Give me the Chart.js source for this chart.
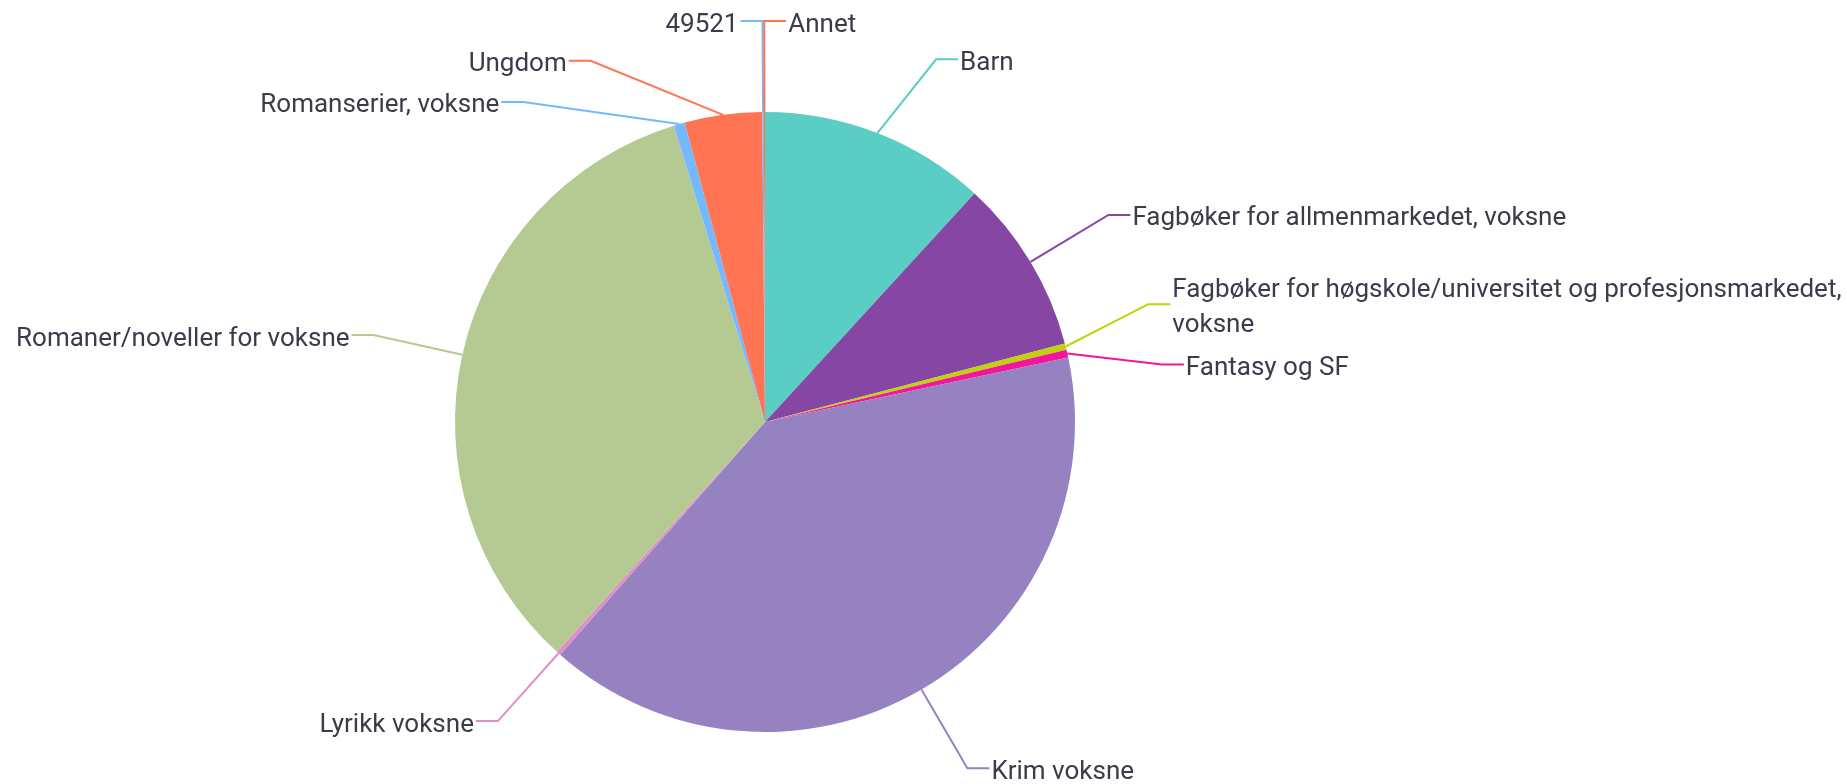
<!DOCTYPE html>
<html>
<head>
<meta charset="utf-8">
<script src="https://cdn.jsdelivr.net/npm/chart.js@4.4.1/dist/chart.umd.min.js"></script>
<style>
    html, body { margin: 0; padding: 0; background: #ffffff; }
    #wrap { width: 1847px; height: 784px; }
</style>
</head>
<body>
<div id="wrap"><canvas id="pieChart" width="1847" height="784"></canvas></div>
<script>
// Categories in drawing order (clockwise from 12 o'clock)
const categories = [
    'Barn',
    'Fagbøker for allmenmarkedet, voksne',
    'Fagbøker for høgskole/universitet og profesjonsmarkedet, voksne',
    'Fantasy og SF',
    'Krim voksne',
    'Lyrikk voksne',
    'Romaner/noveller for voksne',
    'Romanserier, voksne',
    'Ungdom',
    '49521',
    'Annet'
];

// Share of the pie (per 10 000)
const values = [1181, 911, 33, 42, 3982, 22, 3354, 58, 403, 8, 6];

const sliceColors = [
    '#5acdc4', '#8547a3', '#c0d20c', '#f2169f', '#9681c1', '#e08ec9',
    '#b5c992', '#74b9ff', '#ff7453', '#74b9ff', '#ff7453'
];

// Label placement tweaks (degrees the elbow is turned, forced side)
const labelNudge = [4, 0, -3, 4.5, 0, 0, 0, -21, -18, 0, 0];
const labelSide = [null, null, null, null, null, null, null, null, null, 'left', 'right'];

const FONT = '26px Roboto, "DejaVu Sans", sans-serif';
const TEXT_COLOR = '#3b3b4b';

function wrapText(ctx, text, maxWidth) {
    const words = text.split(' ');
    const lines = [];
    let line = '';
    words.forEach(w => {
        const test = line ? line + ' ' + w : w;
        if (line && ctx.measureText(test).width > maxWidth) {
            lines.push(line);
            line = w;
        } else {
            line = test;
        }
    });
    if (line) lines.push(line);
    return lines;
}

const outerLabels = {
    id: 'outerLabels',
    afterDatasetsDraw(chart) {
        const ctx = chart.ctx;
        const meta = chart.getDatasetMeta(0);
        ctx.save();
        ctx.font = FONT;
        ctx.lineWidth = 2;
        ctx.textBaseline = 'middle';
        meta.data.forEach((arc, i) => {
            const p = arc.getProps(['x', 'y', 'startAngle', 'endAngle', 'outerRadius'], true);
            const mid = (p.startAngle + p.endAngle) / 2;
            const sx = p.x + Math.cos(mid) * p.outerRadius;
            const sy = p.y + Math.sin(mid) * p.outerRadius;
            const ea = mid + labelNudge[i] * Math.PI / 180;
            const er = p.outerRadius + 91;
            const ex = p.x + Math.cos(ea) * er;
            const ey = p.y + Math.sin(ea) * er;
            let side = labelSide[i] || (ex >= p.x ? 'right' : 'left');
            const hx = side === 'right' ? ex + 22 : ex - 22;

            ctx.strokeStyle = sliceColors[i];
            ctx.beginPath();
            ctx.moveTo(sx, sy);
            ctx.lineTo(ex, ey);
            ctx.lineTo(hx, ey);
            ctx.stroke();

            ctx.fillStyle = TEXT_COLOR;
            const tx = side === 'right' ? hx + 2 : hx - 2;
            ctx.textAlign = side === 'right' ? 'left' : 'right';
            const maxW = side === 'right' ? chart.width - tx - 2 : tx - 2;
            const lines = wrapText(ctx, categories[i], maxW);
            const lh = 35;
            const top = ey + 4 - (lines.length - 1) * lh / 2;
            lines.forEach((ln, k) => ctx.fillText(ln, tx, top + k * lh));
        });
        ctx.restore();
    }
};

const ctx = document.getElementById('pieChart').getContext('2d');
new Chart(ctx, {
    type: 'pie',
    data: {
        labels: categories,
        datasets: [{
            data: values,
            backgroundColor: sliceColors,
            borderWidth: 0
        }]
    },
    options: {
        responsive: false,
        animation: false,
        layout: {
            padding: { left: 455, right: 772, top: 112, bottom: 52 }
        },
        plugins: {
            legend: { display: false },
            tooltip: { enabled: false }
        }
    },
    plugins: [outerLabels]
});
</script>
</body>
</html>
